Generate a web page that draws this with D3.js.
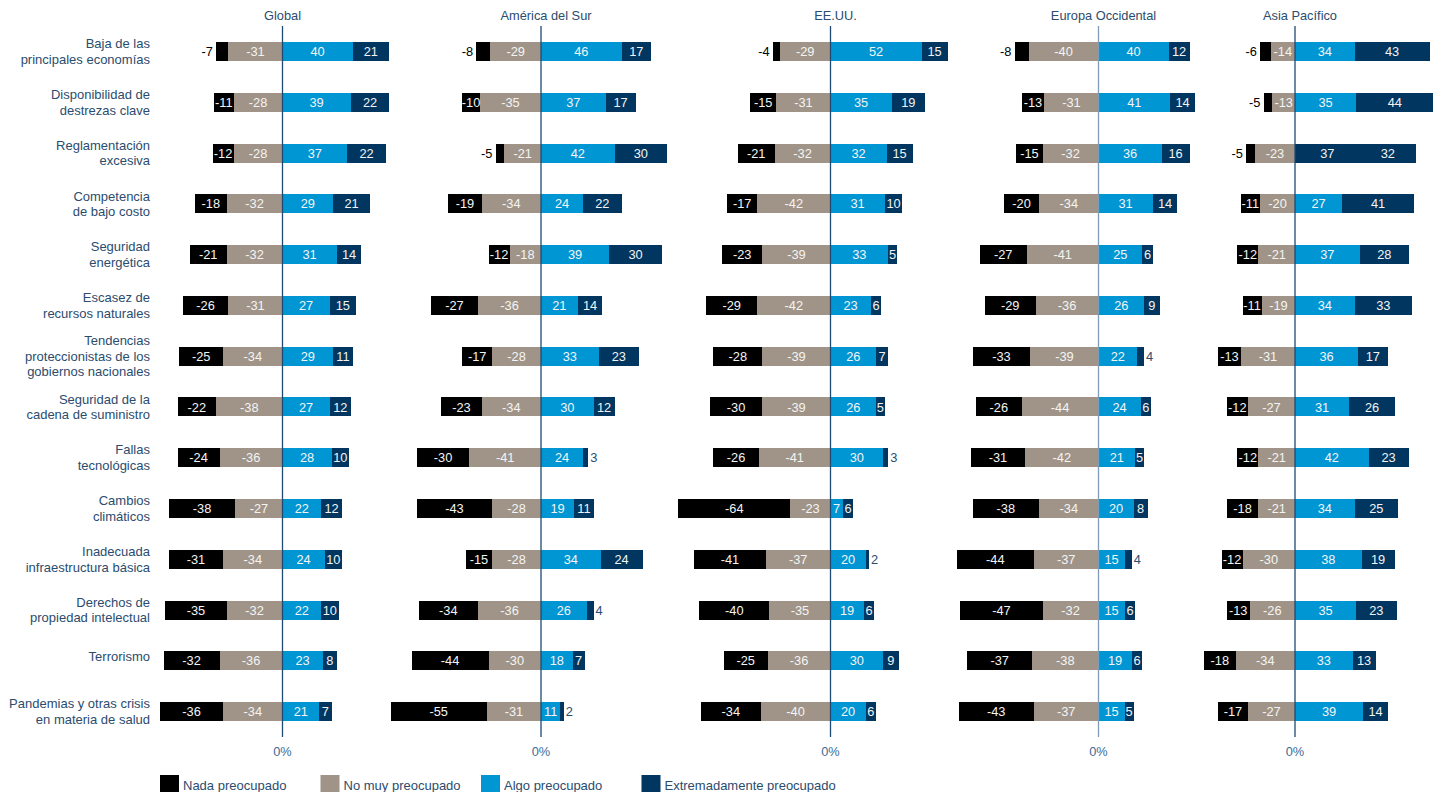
<!DOCTYPE html>
<html>
<head>
<meta charset="utf-8">
<script src="https://cdn.jsdelivr.net/npm/d3@7"></script>
<style>
  body { margin: 0; background: #fff; }
  text { font-family: "Liberation Sans", Arial, Helvetica, sans-serif; }
</style>
</head>
<body>
<div id="chart"></div>
<script>
var svgWidth = 1434;
var svgHeight = 792;

// Categories (label lines as they wrap in the chart)
var categories = [
    ["Baja de las", "principales economías"],
    ["Disponibilidad de", "destrezas clave"],
    ["Reglamentación", "excesiva"],
    ["Competencia", "de bajo costo"],
    ["Seguridad", "energética"],
    ["Escasez de", "recursos naturales"],
    ["Tendencias", "proteccionistas de los", "gobiernos nacionales"],
    ["Seguridad de la", "cadena de suministro"],
    ["Fallas", "tecnológicas"],
    ["Cambios", "climáticos"],
    ["Inadecuada", "infraestructura básica"],
    ["Derechos de", "propiedad intelectual"],
    ["Terrorismo"],
    ["Pandemias y otras crisis", "en materia de salud"]
];

var regions = ["Global", "América del Sur", "EE.UU.", "Europa Occidental", "Asia Pacífico"];

var seriesNames = ["Nada preocupado", "No muy preocupado", "Algo preocupado", "Extremadamente preocupado"];

// [nada, no muy, algo, extremadamente] per category
var globalData = [
    [-7, -31, 40, 21], [-11, -28, 39, 22], [-12, -28, 37, 22], [-18, -32, 29, 21],
    [-21, -32, 31, 14], [-26, -31, 27, 15], [-25, -34, 29, 11], [-22, -38, 27, 12],
    [-24, -36, 28, 10], [-38, -27, 22, 12], [-31, -34, 24, 10], [-35, -32, 22, 10],
    [-32, -36, 23, 8], [-36, -34, 21, 7]
];
var surData = [
    [-8, -29, 46, 17], [-10, -35, 37, 17], [-5, -21, 42, 30], [-19, -34, 24, 22],
    [-12, -18, 39, 30], [-27, -36, 21, 14], [-17, -28, 33, 23], [-23, -34, 30, 12],
    [-30, -41, 24, 3], [-43, -28, 19, 11], [-15, -28, 34, 24], [-34, -36, 26, 4],
    [-44, -30, 18, 7], [-55, -31, 11, 2]
];
var usaData = [
    [-4, -29, 52, 15], [-15, -31, 35, 19], [-21, -32, 32, 15], [-17, -42, 31, 10],
    [-23, -39, 33, 5], [-29, -42, 23, 6], [-28, -39, 26, 7], [-30, -39, 26, 5],
    [-26, -41, 30, 3], [-64, -23, 7, 6], [-41, -37, 20, 2], [-40, -35, 19, 6],
    [-25, -36, 30, 9], [-34, -40, 20, 6]
];
var europaData = [
    [-8, -40, 40, 12], [-13, -31, 41, 14], [-15, -32, 36, 16], [-20, -34, 31, 14],
    [-27, -41, 25, 6], [-29, -36, 26, 9], [-33, -39, 22, 4], [-26, -44, 24, 6],
    [-31, -42, 21, 5], [-38, -34, 20, 8], [-44, -37, 15, 4], [-47, -32, 15, 6],
    [-37, -38, 19, 6], [-43, -37, 15, 5]
];
var asiaData = [
    [-6, -14, 34, 43], [-5, -13, 35, 44], [-5, -23, 37, 32], [-11, -20, 27, 41],
    [-12, -21, 37, 28], [-11, -19, 34, 33], [-13, -31, 36, 17], [-12, -27, 31, 26],
    [-12, -21, 42, 23], [-18, -21, 34, 25], [-12, -30, 38, 19], [-13, -26, 35, 23],
    [-18, -34, 33, 13], [-17, -27, 39, 14]
];

var regionData = [globalData, surData, usaData, europaData, asiaData];

// Layout
var panelZero = [282.5, 541, 830.5, 1098.5, 1295];
var labelRight = 150;
var colors = ["#000000", "#a09488", "#0096d4", "#00365f"];
var textColor = "#2b4c6e";

var svg = d3.select("#chart")
    .append("svg")
    .attr("width", svgWidth)
    .attr("height", svgHeight);

// Rows
var y = d3.scaleBand()
    .domain(d3.range(categories.length))
    .range([26.1, 737.0])
    .paddingInner(0.626)
    .paddingOuter(0.313);

// Value scale, same for every panel (relative to its zero line)
var x = d3.scaleLinear()
    .domain([-100, 100])
    .range([-175, 175]);

// Category labels
var labelGroup = svg.append("g");
categories.forEach(function(lines, i) {
    var cy = y(i) + y.bandwidth() / 2;
    var t = labelGroup.append("text")
        .attr("text-anchor", "end")
        .style("font-size", "13px")
        .style("fill", textColor);
    lines.forEach(function(line, j) {
        t.append("tspan")
            .attr("x", labelRight)
            .attr("y", cy + (j - (lines.length - 1) / 2) * 15.6 - (lines.length === 1 ? 4 : 0))
            .attr("dy", "0.35em")
            .text(line);
    });
});

// Panels
regions.forEach(function(region, p) {
    var data = regionData[p];
    var panel = svg.append("g")
        .attr("transform", `translate(${panelZero[p]}, 0)`);

    // build segments: negatives stack leftward (no muy inner, nada outer),
    // positives stack rightward (algo inner, extremadamente outer)
    var segs = [];
    data.forEach(function(row, i) {
        var neg = 0;
        [1, 0].forEach(function(k) {
            segs.push({ row: i, k: k, v: row[k], x0: neg + row[k], x1: neg });
            neg += row[k];
        });
        var pos = 0;
        [2, 3].forEach(function(k) {
            segs.push({ row: i, k: k, v: row[k], x0: pos, x1: pos + row[k] });
            pos += row[k];
        });
    });

    panel.selectAll("rect")
        .data(segs)
        .enter()
        .append("rect")
        .attr("x", d => x(d.x0))
        .attr("y", d => y(d.row))
        .attr("width", d => x(d.x1) - x(d.x0))
        .attr("height", y.bandwidth())
        .attr("shape-rendering", "crispEdges")
        .attr("fill", function(d) {
            // the source chart paints this one segment in the dark tone
            if (region === "Asia Pacífico" && d.row === 2 && d.k === 2) return colors[3];
            return colors[d.k];
        });

    panel.selectAll("text.val")
        .data(segs)
        .enter()
        .append("text")
        .attr("class", "val")
        .attr("y", d => y(d.row) + y.bandwidth() / 2)
        .attr("dy", "0.36em")
        .style("font-size", "12.8px")
        .each(function(d) {
            var t = d3.select(this);
            if (d.k === 0 && d.v > -9) {
                // small "nada" values sit outside, left of the bar
                t.attr("x", x(d.x0) - 3).attr("text-anchor", "end").style("fill", "#000");
            } else if (d.k === 3 && d.v < 5) {
                t.attr("x", x(d.x1) + 2).attr("text-anchor", "start").style("fill", textColor);
            } else {
                t.attr("x", (x(d.x0) + x(d.x1)) / 2).attr("text-anchor", "middle").style("fill", "#f4f4f4");
            }
        })
        .text(d => d.v);

    // zero line
    panel.append("line")
        .attr("x1", x(0))
        .attr("x2", x(0))
        .attr("y1", y.range()[0])
        .attr("y2", y.range()[1])
        .attr("stroke", region === "Europa Occidental" ? "#7f9cb8" : "#1e4a74")
        .attr("stroke-width", 1.3);

    // panel title
    panel.append("text")
        .attr("x", p === 0 ? 0 : 5)
        .attr("y", 20)
        .attr("text-anchor", "middle")
        .style("font-size", "12.8px")
        .style("fill", textColor)
        .text(region);

    // 0% tick label
    panel.append("text")
        .attr("x", x(0))
        .attr("y", 756)
        .attr("text-anchor", "middle")
        .style("font-size", "12.8px")
        .style("fill", "#3d6c98")
        .text("0%");
});

// Legend
var legend = svg.append("g")
    .attr("transform", "translate(160, 775)");

var legendItems = legend.selectAll("g")
    .data(seriesNames)
    .enter()
    .append("g")
    .attr("transform", (d, i) => `translate(${i * 160.5}, 0)`);

legendItems.append("rect")
    .attr("width", 19)
    .attr("height", 19)
    .attr("fill", (d, i) => colors[i]);

legendItems.append("text")
    .attr("x", 23)
    .attr("y", 10)
    .attr("dy", "0.35em")
    .style("font-size", "13px")
    .style("fill", textColor)
    .text(d => d);
</script>
</body>
</html>
